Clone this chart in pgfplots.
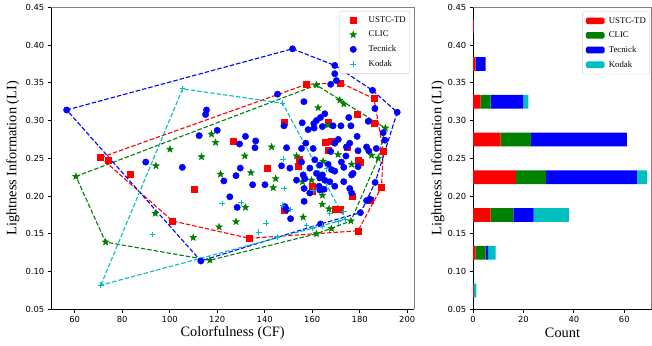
\documentclass[border=0pt]{standalone}
\usepackage{fontspec}
\setmainfont{Liberation Serif}
\newfontfamily\tickfont{DejaVu Sans}
\usepackage{pgfplots}
\pgfplotsset{compat=1.18}
\definecolor{mred}{RGB}{255,0,0}
\definecolor{mgreen}{RGB}{0,128,0}
\definecolor{mblue}{RGB}{0,0,255}
\definecolor{mcyan}{RGB}{0,191,191}
\definecolor{spinegray}{RGB}{128,128,128}

\pgfdeclareplotmark{fstar}{%
  \pgfpathmoveto{\pgfqpointpolar{90}{\pgfplotmarksize}}%
  \pgfpathlineto{\pgfqpointpolar{126}{0.42\pgfplotmarksize}}%
  \pgfpathlineto{\pgfqpointpolar{162}{\pgfplotmarksize}}%
  \pgfpathlineto{\pgfqpointpolar{198}{0.42\pgfplotmarksize}}%
  \pgfpathlineto{\pgfqpointpolar{234}{\pgfplotmarksize}}%
  \pgfpathlineto{\pgfqpointpolar{270}{0.42\pgfplotmarksize}}%
  \pgfpathlineto{\pgfqpointpolar{306}{\pgfplotmarksize}}%
  \pgfpathlineto{\pgfqpointpolar{342}{0.42\pgfplotmarksize}}%
  \pgfpathlineto{\pgfqpointpolar{18}{\pgfplotmarksize}}%
  \pgfpathlineto{\pgfqpointpolar{54}{0.42\pgfplotmarksize}}%
  \pgfpathclose
  \pgfusepathqfillstroke
}

\pgfplotsset{
  myaxis/.style={
    scale only axis,
    axis x line*=bottom, axis y line*=left,
    x axis line style={-}, y axis line style={-},
    axis line style={black, line width=0.8bp},
    tick align=outside,
    major tick length=3.3bp,
    every tick/.style={black, line width=0.8bp},
    ticklabel style={font=\tickfont\fontsize{8.4}{10}\selectfont},
    /pgf/number format/assume math mode=true,
    label style={font=\fontsize{14.4}{17}\selectfont},
    ymin=0.05, ymax=0.45,
    ytick={0.05,0.10,0.15,0.20,0.25,0.30,0.35,0.40,0.45},
    yticklabel style={/pgf/number format/.cd, fixed, fixed zerofill, precision=2},
    enlargelimits=false,
    clip=false,
    legend cell align=left,
    legend style={font=\fontsize{8.8}{10}\selectfont, draw=black!20, rounded corners=1.5bp,
      fill=white, inner xsep=2bp, inner ysep=3.5bp, row sep=3.2bp},
    after end axis/.code={\draw[spinegray, line width=1.5bp] (rel axis cs:0,1) -- (rel axis cs:1,1) -- (rel axis cs:1,0);},
  },
  hull/.style={dash pattern=on 4.5bp off 2bp, line width=1.1bp, mark=none},
}

\begin{document}
\begin{tikzpicture}
\useasboundingbox (0,0) rectangle (652bp,346bp);
%% ---------------- left scatter ----------------
\begin{axis}[myaxis,
  at={(51bp,36.7bp)}, anchor=south west,
  width=363.3bp, height=302bp,
  xmin=50, xmax=203,
  xtick={60,80,100,120,140,160,180,200},
  xlabel={Colorfulness (CF)},
  ylabel={Lightness Information (LI)},
  xlabel style={at={(axis description cs:0.5,-0.078)}, anchor=center},
  ylabel style={at={(axis description cs:-0.105,0.5)}, anchor=center},
  legend style={at={(rel axis cs:0.988,0.988)}, anchor=north east},
  legend image code/.code={\path (0bp,0bp) (24bp,0bp); \draw[#1] plot coordinates {(11bp,0bp)};},
]
\addplot[only marks, mark=square*, mark size=3bp, color=mred] coordinates {
(70.9,0.251) (73.9,0.247) (83.5,0.229) (110.5,0.209) (101.2,0.167) (133.5,0.144) (126.6,0.272) (141.2,0.237) (157.6,0.348) (171.9,0.350) (186.0,0.329) (178.9,0.308) (148.3,0.298) (166.7,0.298) (186.0,0.296) (165.3,0.271) (167.8,0.273) (166.7,0.261) (174.9,0.265) (189.9,0.260) (154.5,0.249) (154.1,0.240) (179.3,0.248) (180.1,0.245) (160.1,0.213) (160.1,0.206) (177.0,0.200) (148.2,0.181) (169.8,0.182) (171.9,0.182) (184.3,0.194) (189.2,0.212) (179.3,0.154)
};
\addlegendentry{USTC-TD}
\addplot[only marks, mark=fstar, mark size=3.6bp, color=mgreen] coordinates {
(60.5,0.226) (73.0,0.139) (116.9,0.115) (161.8,0.347) (190.8,0.290) (176.3,0.167) (94.2,0.240) (113.4,0.252) (121.4,0.229) (93.9,0.177) (120.8,0.159) (109.9,0.145) (117.6,0.282) (119.3,0.271) (100.1,0.262) (142.9,0.265) (131.6,0.253) (134.2,0.231) (144.6,0.223) (143.6,0.211) (131.9,0.185) (127.9,0.166) (162.5,0.317) (171.6,0.327) (173.3,0.322) (153.4,0.253) (164.6,0.246) (170.9,0.255) (176.6,0.242) (185.0,0.254) (187.8,0.250) (155.9,0.219) (159.7,0.221) (164.3,0.201) (164.2,0.189) (167.1,0.183) (156.2,0.172) (161.8,0.150) (168.1,0.157) (166.7,0.294)
};
\addlegendentry{CLIC}
\addplot[only marks, mark=*, mark size=3.2bp, color=mblue] coordinates {
(56.6,0.314) (151.7,0.395) (169.5,0.373) (185.4,0.340) (195.8,0.311) (186.5,0.218) (182.9,0.194) (180.3,0.178) (163.5,0.163) (113.1,0.114) (89.9,0.245) (105.3,0.238) (122.8,0.220) (125.3,0.199) (115.5,0.314) (115.1,0.308) (120.0,0.287) (112.4,0.280) (131.9,0.279) (129.4,0.269) (136.2,0.273) (135.9,0.264) (129.7,0.237) (145.4,0.335) (127.9,0.227) (134.9,0.215) (140.1,0.215) (128.4,0.185) (169.5,0.362) (170.2,0.353) (167.8,0.348) (156.5,0.325) (165.3,0.309) (175.4,0.304) (163.5,0.304) (161.8,0.300) (160.7,0.296) (148.1,0.293) (155.8,0.297) (158.3,0.288) (160.8,0.290) (164.3,0.292) (168.8,0.293) (172.1,0.293) (176.3,0.293) (178.9,0.279) (183.6,0.299) (189.9,0.284) (190.6,0.274) (171.0,0.275) (169.5,0.270) (175.8,0.270) (174.4,0.265) (179.3,0.260) (182.9,0.265) (183.8,0.260) (187.0,0.263) (155.5,0.263) (160.4,0.263) (167.8,0.259) (147.1,0.240) (155.5,0.245) (163.2,0.241) (166.7,0.242) (174.2,0.253) (172.3,0.245) (179.3,0.239) (173.3,0.238) (150.6,0.237) (159.0,0.237) (153.4,0.221) (156.2,0.228) (156.9,0.223) (156.6,0.210) (159.0,0.204) (163.2,0.224) (165.3,0.221) (167.4,0.219) (163.2,0.208) (165.0,0.209) (161.8,0.230) (164.3,0.228) (168.1,0.235) (169.5,0.233) (173.3,0.219) (175.8,0.210) (176.6,0.204) (176.6,0.228) (177.2,0.230) (156.6,0.193) (148.5,0.186) (149.2,0.182) (150.9,0.170) (162.9,0.213) (169.5,0.213) (186.4,0.316) (184.3,0.196) (161.1,0.248) (157.3,0.270) (149.2,0.264)
};
\addlegendentry{Tecnick}
\addplot[only marks, mark=+, mark size=2.8bp, line width=1bp, color=mcyan] coordinates {
(105.4,0.342) (71.0,0.082) (147.5,0.323) (173.9,0.169) (122.1,0.190) (92.8,0.149) (130.1,0.191) (140.6,0.164) (137.5,0.152) (147.8,0.249) (148.2,0.210) (160.4,0.208) (147.5,0.188) (150.9,0.182) (173.3,0.179) (170.9,0.166) (157.6,0.161) (160.1,0.157) (145.2,0.146) (167.4,0.177) (164.3,0.160) (166.0,0.236)
};
\addlegendentry{Kodak}
% convex hulls
\addplot[hull, color=mred, forget plot] coordinates {
(70.9,0.251) (157.6,0.348) (171.9,0.350) (186.0,0.329) (189.9,0.260) (189.2,0.212) (179.3,0.154) (133.5,0.144) (101.2,0.167) (70.9,0.251)
};
\addplot[hull, color=mgreen, forget plot] coordinates {
(60.5,0.226) (161.8,0.347) (190.8,0.290) (187.8,0.250) (176.3,0.167) (161.8,0.150) (116.9,0.115) (73.0,0.139) (60.5,0.226)
};
\addplot[hull, color=mblue, forget plot] coordinates {
(56.6,0.314) (151.7,0.395) (169.5,0.373) (185.4,0.340) (195.8,0.311) (186.5,0.218) (182.9,0.194) (180.3,0.178) (163.5,0.163) (113.1,0.114) (56.6,0.314)
};
\addplot[hull, color=mcyan, forget plot] coordinates {
(71.0,0.082) (105.4,0.342) (147.5,0.323) (173.9,0.169) (71.0,0.082)
};
\end{axis}
%% ---------------- right histogram ----------------
\begin{axis}[myaxis,
  at={(473bp,36.7bp)}, anchor=south west,
  width=179bp, height=302bp,
  xmin=0, xmax=71,
  xtick={0,20,40,60},
  xbar stacked, bar width=13.8bp,
  xlabel={Count},
  ylabel={Lightness Information (LI)},
  xlabel style={at={(axis description cs:0.5,-0.078)}, anchor=center},
  ylabel style={at={(axis description cs:-0.196,0.5)}, anchor=center},
  legend style={at={(rel axis cs:0.989,0.986)}, anchor=north east},
  legend image code/.code={\path (0bp,0bp) (22.5bp,0bp); \fill[#1] (1.5bp,-3.3bp) rectangle (20.2bp,3.3bp);},
]
\addplot[fill=mred, draw=none] coordinates {(0.3,0.425) (1,0.375) (3,0.325) (11,0.275) (17,0.225) (7,0.175) (1,0.125) (0.3,0.075)};
\addlegendentry{USTC-TD}
\addplot[fill=mgreen, draw=none] coordinates {(0,0.425) (0,0.375) (4,0.325) (12,0.275) (12,0.225) (9,0.175) (4,0.125) (0,0.075)};
\addlegendentry{CLIC}
\addplot[fill=mblue, draw=none] coordinates {(0,0.425) (4,0.375) (13,0.325) (38,0.275) (36,0.225) (8,0.175) (1,0.125) (0,0.075)};
\addlegendentry{Tecnick}
\addplot[fill=mcyan, draw=none] coordinates {(0,0.425) (0,0.375) (2,0.325) (0,0.275) (4,0.225) (14,0.175) (3,0.125) (1,0.075)};
\addlegendentry{Kodak}
\end{axis}
\end{tikzpicture}
\end{document}
